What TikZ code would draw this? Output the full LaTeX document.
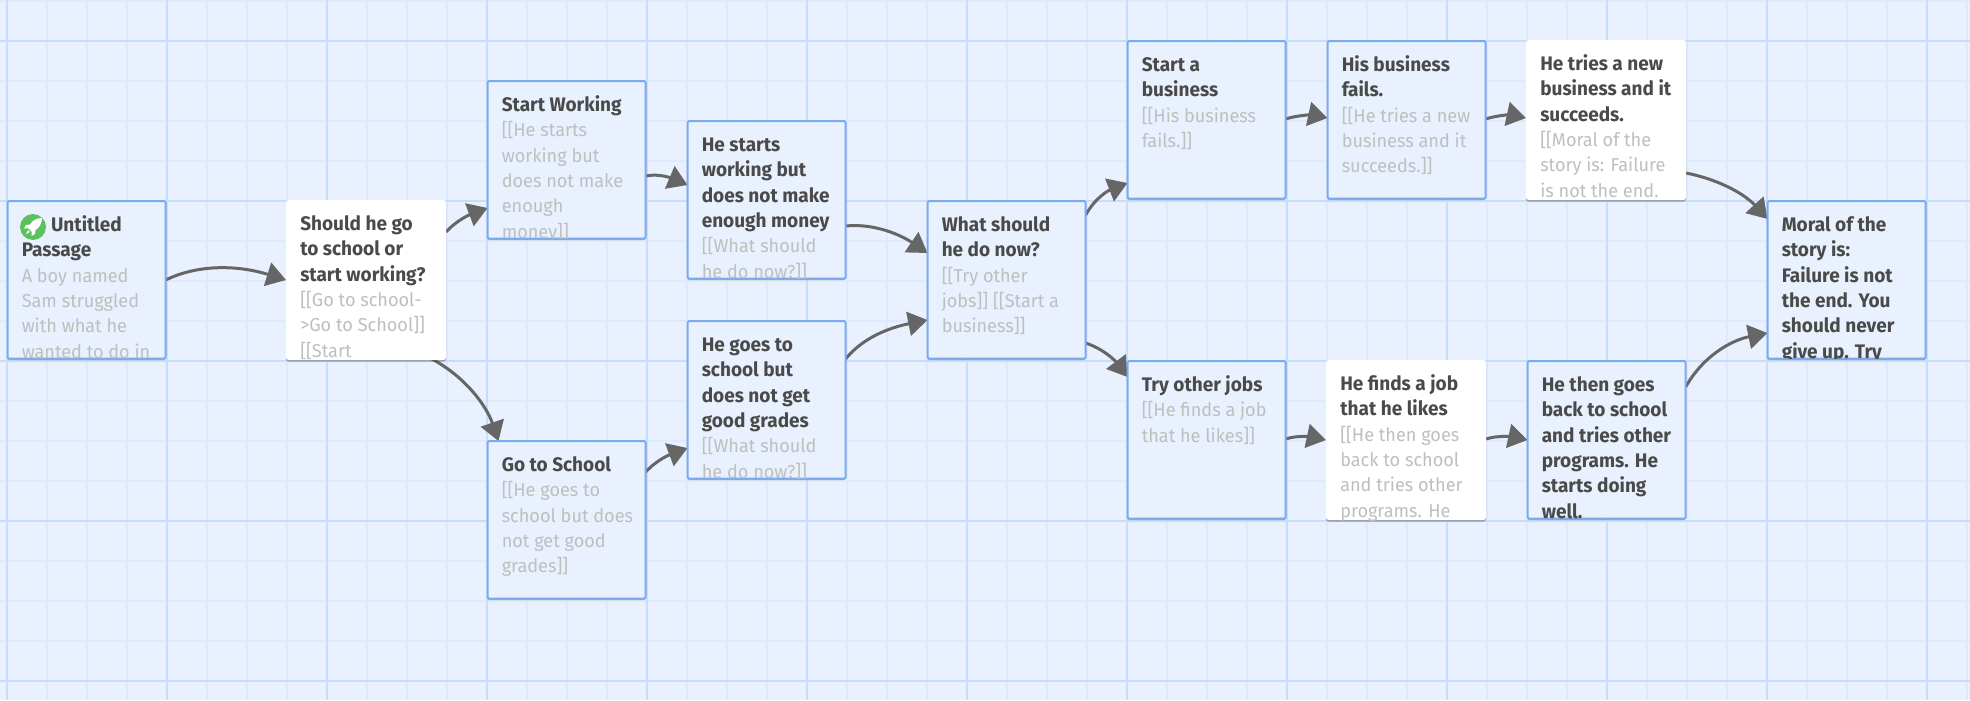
\documentclass[tikz,border=0pt]{standalone}
\usepackage{fontspec}
\setmainfont{Fira Sans}[FakeStretch=0.97]
\usetikzlibrary{arrows.meta,calc,shadows}
\definecolor{bgc}{HTML}{E8F1FD}
\definecolor{gridmin}{HTML}{DDE9FC}
\definecolor{gridmaj}{HTML}{C8DDFA}
\definecolor{edgeblue}{HTML}{7BAAF0}
\definecolor{darktext}{HTML}{4A4A4A}
\definecolor{greytext}{HTML}{BFBFBF}
\definecolor{linkc}{HTML}{666666}
\definecolor{rocketc}{HTML}{5CC15C}
\pgfdeclarelayer{under}
\pgfdeclarelayer{edges}
\pgfsetlayers{under,edges,main}
\tikzset{
  x=0.75pt,y=-0.75pt,
  boxbase/.style={anchor=north west,inner sep=0pt,outer sep=0pt,
    drop shadow={shadow xshift=0pt,shadow yshift=-1.2pt,opacity=.3,fill=black}},
  bluebox/.style={boxbase,draw=edgeblue,line width=1.5pt,fill=bgc,rounded corners=1.5pt,
    minimum width=118.6pt,minimum height=118.2pt},
  whitebox/.style={boxbase,fill=white,rounded corners=2pt,
    minimum width=120pt,minimum height=120pt},
  passage/.style={anchor=north west,inner sep=0pt,align=left,text=darktext,
    font=\fontsize{14.7}{19.1}\selectfont\bfseries},
  link/.style={draw=linkc,line width=2.25pt,
    -{Triangle[length=14.5pt,width=18pt,fill=linkc]}},
  minorline/.style={draw=gridmin,line width=1.5pt},
  majorline/.style={draw=gridmaj,line width=1.5pt},
}
\newcommand{\gl}{\color{greytext}\mdseries\fontsize{14}{19.1}\selectfont}
% \psg{name}{style}{x}{y}{text}
\newcommand{\psg}[5]{%
  \node[#2] (#1) at (#3,#4) {};
  \begin{scope}
    \clip (#1.north west) rectangle (#1.south east);
    \node[passage] (#1-text) at ($(#1.north west)+(14,12)$) {\strut #5};
  \end{scope}
}
\begin{document}
\begin{tikzpicture}
\useasboundingbox (0,0) rectangle (1970,700);
\begin{pgfonlayer}{under}
  \fill[bgc] (0,0) rectangle (1970,700);
  \foreach \i in {47,87,127,207,247,287,367,407,447,527,567,607,687,727,767,847,887,927,1007,1047,1087,1167,1207,1247,1327,1367,1407,1487,1527,1567,1647,1687,1727,1807,1847,1887,1967}
    \draw[minorline] (\i,0) -- (\i,700);
  \foreach \j in {1,81,121,161,241,281,321,401,441,481,561,601,641}
    \draw[minorline] (0,\j) -- (1970,\j);
  \foreach \i in {7,167,327,487,647,807,967,1127,1287,1447,1607,1767,1927}
    \draw[majorline] (\i,0) -- (\i,700);
  \foreach \j in {41,201,361,521,681}
    \draw[majorline] (0,\j) -- (1970,\j);
\end{pgfonlayer}

\psg{untitled}{bluebox}{7.5}{201}{\hspace{22pt}Untitled\\Passage\\\gl A boy named\\\gl Sam struggled\\\gl with what he\\\gl wanted to do in\\\gl his life}
\psg{should}{whitebox}{286}{200}{Should he go\\to school or\\start working?\\\gl [[Go to school-\\\gl >Go to School]]\\\gl [[Start\\\gl Working]]}
\psg{working}{bluebox}{487.5}{81}{Start Working\\\gl [[He starts\\\gl working but\\\gl does not make\\\gl enough\\\gl money]]}
\psg{school}{bluebox}{487.5}{441}{Go to School\\\gl [[He goes to\\\gl school but does\\\gl not get good\\\gl grades]]}
\psg{hestarts}{bluebox}{687.5}{121}{He starts\\working but\\does not make\\enough money\\\gl [[What should\\\gl he do now?]]}
\psg{hegoes}{bluebox}{687.5}{321}{He goes to\\school but\\does not get\\good grades\\\gl [[What should\\\gl he do now?]]}
\psg{what}{bluebox}{927.5}{201}{What should\\he do now?\\\gl [[Try other\\\gl jobs]] [[Start a\\\gl business]]}
\psg{business}{bluebox}{1127.5}{41}{Start a\\business\\\gl [[His business\\\gl fails.]]}
\psg{fails}{bluebox}{1327.5}{41}{His business\\fails.\\\gl [[He tries a new\\\gl business and it\\\gl succeeds.]]}
\psg{tries}{whitebox}{1526}{40}{He tries a new\\business and it\\succeeds.\\\gl [[Moral of the\\\gl story is: Failure\\\gl is not the end.}
\psg{moral}{bluebox}{1767.5}{201}{Moral of the\\story is:\\Failure is not\\the end. You\\should never\\give up. Try}
\psg{jobs}{bluebox}{1127.5}{361}{Try other jobs\\\gl [[He finds a job\\\gl that he likes]]}
\psg{finds}{whitebox}{1326}{360}{He finds a job\\that he likes\\\gl [[He then goes\\\gl back to school\\\gl and tries other\\\gl programs. He}
\psg{back}{bluebox}{1527.5}{361}{He then goes\\back to school\\and tries other\\programs. He\\starts doing\\well.}

% start-node icon
\node[circle,fill=rocketc,minimum size=19.5pt,inner sep=0pt] (icon) at ($(untitled.north west)+(25.5,26)$) {};
\fill[white,shift={(icon.center)}]
  (9,-9) .. controls (3,-9) and (-1,-6) .. (-3,-2.5)
  -- (-7,-2) -- (-9,1.5) -- (-5,1.2) -- (-1.2,5) -- (-1.5,9) -- (2,7) -- (2.5,3)
  .. controls (6,1) and (9,-3) .. (9,-9) -- cycle;
\fill[white,shift={(icon.center)}] (-5,3) -- (-3,5) -- (-7,7) -- cycle;

\begin{pgfonlayer}{edges}
  \draw[link] ($(untitled.north east)+(0,79)$) .. controls +(35,-17) and +(-45,-14) .. ($(should.north west)+(0,80)$);
  \draw[link] ($(should.north east)+(0,32)$) .. controls +(12,-13) and +(-16,6) .. ($(working.north west)+(0,127)$);
  \draw[link] ($(should.south east)+(-16,-2)$) .. controls +(35,18) and +(-12,-35) .. ($(school.north west)+(11,0)$);
  \draw[link] ($(working.north east)+(0,95)$) .. controls +(14,-3) and +(-14,-6) .. ($(hestarts.north west)+(0,64)$);
  \draw[link] ($(hestarts.north east)+(0,105)$) .. controls +(30,-3) and +(-25,-17) .. ($(what.north west)+(0,52)$);
  \draw[link] ($(school.north east)+(0,31)$) .. controls +(12,-13) and +(-16,6) .. ($(hegoes.north west)+(0,127)$);
  \draw[link] ($(hegoes.north east)+(0,38)$) .. controls +(20,-25) and +(-30,6) .. ($(what.north west)+(0,119)$);
  \draw[link] ($(what.north east)+(0,14)$) .. controls +(10,-18) and +(-18,7) .. ($(business.north west)+(0,142)$);
  \draw[link] ($(what.north east)+(0,142)$) .. controls +(18,6) and +(-12,-16) .. ($(jobs.north west)+(0,16)$);
  \draw[link] ($(business.north east)+(0,78)$) .. controls +(12,-4) and +(-14,-3) .. ($(fails.north west)+(0,77)$);
  \draw[link] ($(fails.north east)+(0,78)$) .. controls +(12,-4) and +(-14,-3) .. ($(tries.north west)+(0,78)$);
  \draw[link] ($(tries.north east)+(0,133)$) .. controls +(35,7) and +(-22,-24) .. ($(moral.north west)+(0,18)$);
  \draw[link] ($(jobs.north east)+(0,78)$) .. controls +(12,-4) and +(-14,-3) .. ($(finds.north west)+(0,80)$);
  \draw[link] ($(finds.north east)+(0,79)$) .. controls +(12,-4) and +(-14,-3) .. ($(back.north west)+(0,79)$);
  \draw[link] ($(back.north east)+(0,26)$) .. controls +(18,-32) and +(-35,7) .. ($(moral.north west)+(0,132)$);
\end{pgfonlayer}
\end{tikzpicture}
\end{document}
